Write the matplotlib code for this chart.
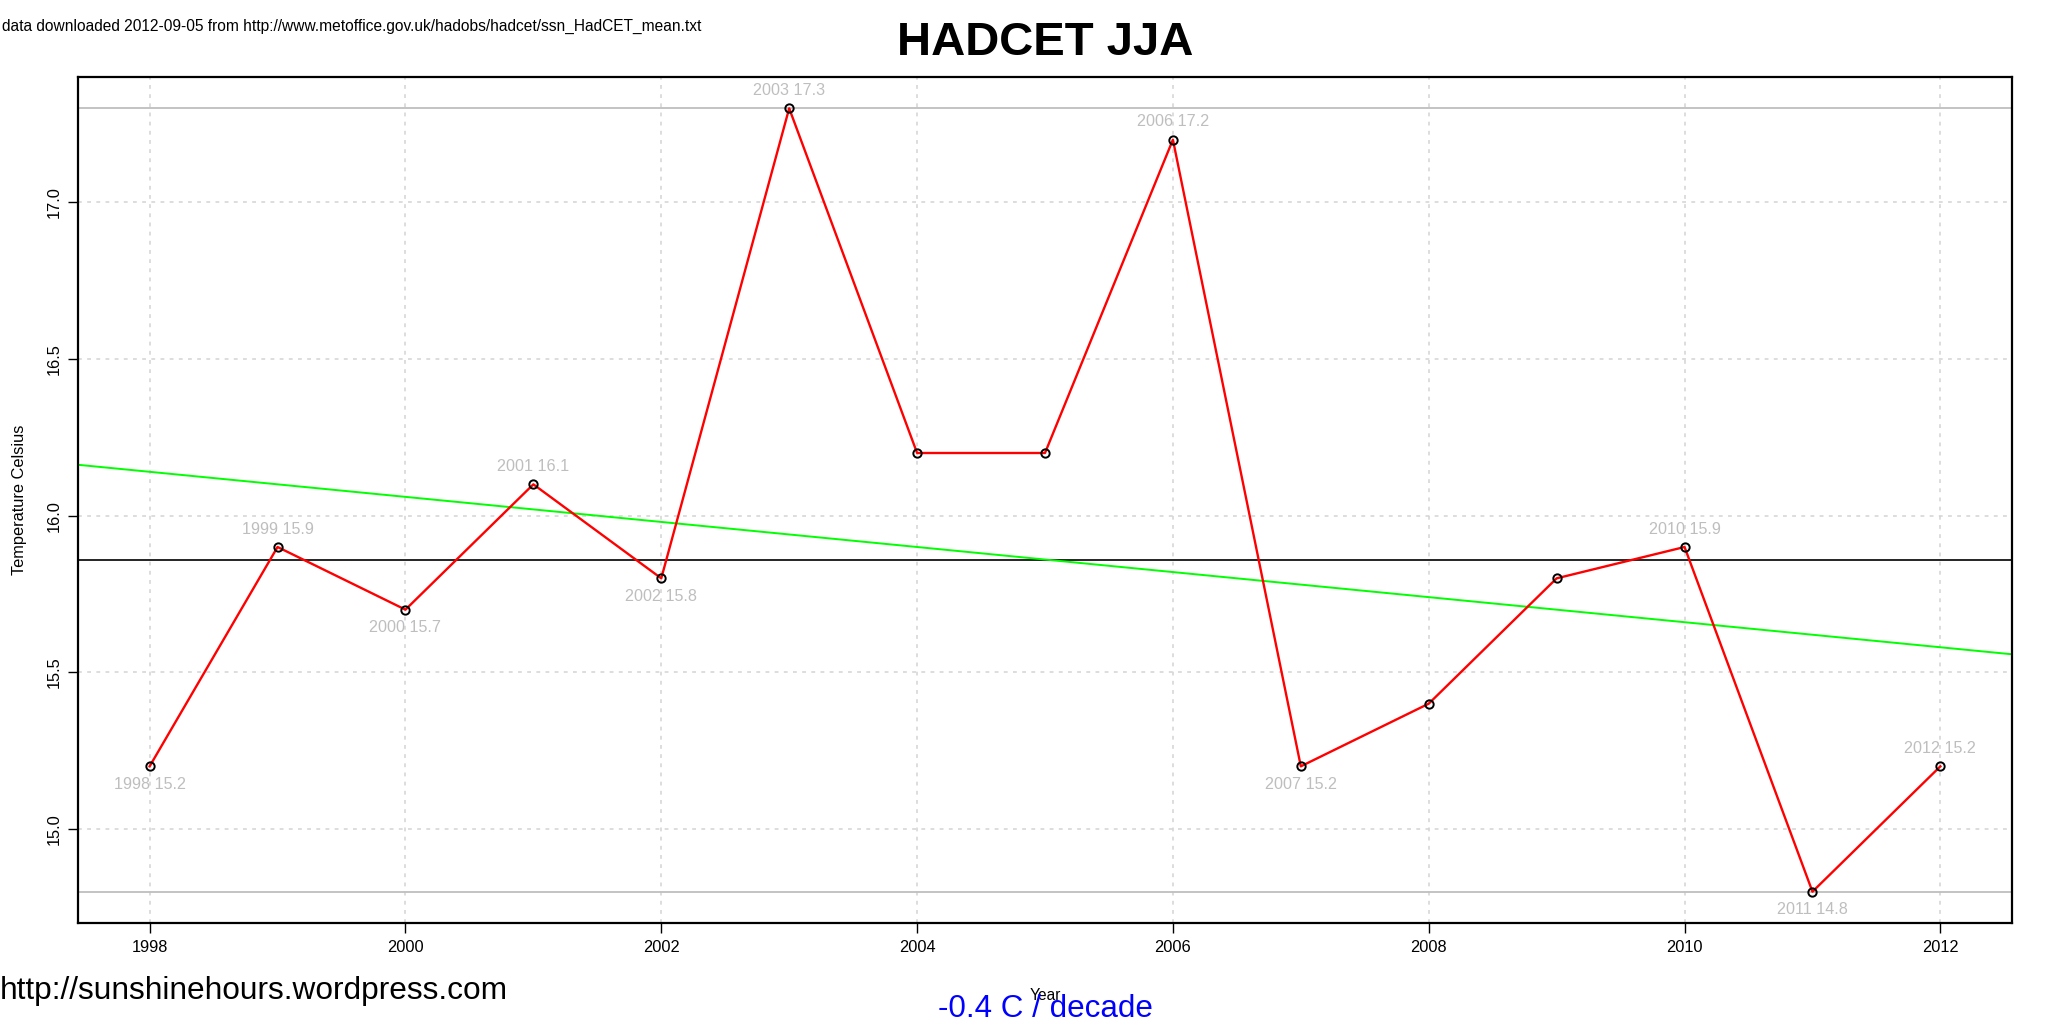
import numpy as np
import matplotlib
matplotlib.use("Agg")
import matplotlib.pyplot as plt

plt.rcParams['font.family'] = ['Liberation Sans', 'DejaVu Sans']

# HadCET summer (JJA) means
years = [1998, 1999, 2000, 2001, 2002, 2003, 2004, 2005,
         2006, 2007, 2008, 2009, 2010, 2011, 2012]
temps = [15.2, 15.9, 15.7, 16.1, 15.8, 17.3, 16.2, 16.2,
         17.2, 15.2, 15.4, 15.8, 15.9, 14.8, 15.2]
x_ticks = [1998, 2000, 2002, 2004, 2006, 2008, 2010, 2012]
y_ticks = [15.0, 15.5, 16.0, 16.5, 17.0]

x = np.array(years, dtype=float)
y = np.array(temps)
slope, intercept = np.polyfit(x, y, 1)

W, H = 2053, 1025
fig = plt.figure(figsize=(W / 100, H / 100), dpi=100)
ax = fig.add_axes([78 / W, 1 - 923 / H, (2012 - 78) / W, (923 - 77) / H])

xr = x.max() - x.min()
yr = y.max() - y.min()
ax.set_xlim(x.min() - 0.04 * xr, x.max() + 0.04 * xr)
ax.set_ylim(y.min() - 0.04 * yr, y.max() + 0.04 * yr)

# grid
for xt in x_ticks:
    ax.axvline(xt, color='#D3D3D3', lw=1.1, ls=(0, (2.5, 3.5)), zorder=0)
for yt in y_ticks:
    ax.axhline(yt, color='#D3D3D3', lw=1.1, ls=(0, (2.5, 3.5)), zorder=0)

# max / min / mean lines
ax.axhline(y.max(), color='#BEBEBE', lw=1.3, zorder=1)
ax.axhline(y.min(), color='#BEBEBE', lw=1.3, zorder=1)
ax.axhline(y.mean(), color='black', lw=1.2, zorder=2)

# trend
xl = np.array(ax.get_xlim())
ax.plot(xl, slope * xl + intercept, color='#00FF00', lw=1.4, zorder=2)

ax.plot(x, y, color='red', lw=1.7, zorder=3)
ax.plot(x, y, 'o', mfc='none', mec='black', mew=1.4, ms=6, zorder=4)

# labels at local peaks (above) and troughs (below)
n = len(y)
for i in range(n):
    nb = [y[j] for j in (i - 1, i + 1) if 0 <= j < n]
    lab = f"{years[i]} {temps[i]}"
    if all(y[i] > v for v in nb):
        ax.annotate(lab, (x[i], y[i]), xytext=(0, 7.5), textcoords='offset points',
                    ha='center', va='bottom', color='#BEBEBE', fontsize=11.6)
    elif all(y[i] < v for v in nb):
        ax.annotate(lab, (x[i], y[i]), xytext=(0, -7.5), textcoords='offset points',
                    ha='center', va='top', color='#BEBEBE', fontsize=11.6)

ax.set_xticks(x_ticks)
ax.set_xticklabels([str(v) for v in x_ticks])
ax.set_yticks(y_ticks)
ax.set_yticklabels([f"{v:.1f}" for v in y_ticks], rotation=90, va='center')
ax.tick_params(direction='out', length=7, width=1, labelsize=11.8, pad=5)
for s in ax.spines.values():
    s.set_linewidth(1.6)

ax.set_ylabel('Temperature Celsius', fontsize=11.8, labelpad=14)

fig.text(2 / W, 1 - 26 / H,
         'data downloaded 2012-09-05 from http://www.metoffice.gov.uk/hadobs/hadcet/ssn_HadCET_mean.txt',
         fontsize=11.2, ha='left', va='center')
fig.text(1045 / W, 1 - 43 / H, 'HADCET JJA', fontsize=34, fontweight='bold',
         ha='center', va='center')
fig.text(1045 / W, 1 - 995 / H, 'Year', fontsize=11.2, ha='center', va='center')
fig.text(0, 1 - 991 / H, 'http://sunshinehours.wordpress.com', fontsize=22.8,
         ha='left', va='center')
fig.text(1045 / W, 1 - 1009 / H, f"{slope * 10:.1f} C / decade", fontsize=22.6,
         color='#0000FF', ha='center', va='center')

fig.savefig('out.png', dpi=100)
